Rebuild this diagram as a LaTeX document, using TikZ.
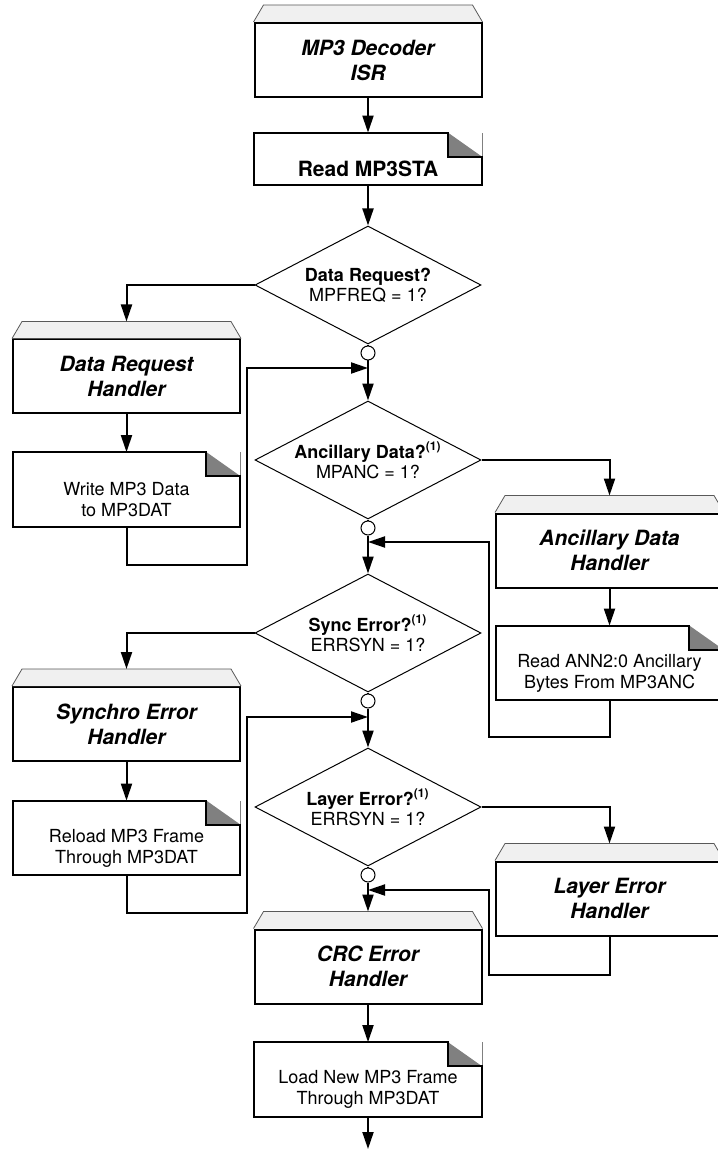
\documentclass[tikz,border=0pt]{standalone}
\usepackage{fontspec}
\setmainfont{TeX Gyre Heros}
\usetikzlibrary{shapes.geometric,arrows.meta,calc}

\definecolor{tabfill}{gray}{0.94}
\definecolor{tabline}{gray}{0.35}
\definecolor{foldgray}{gray}{0.5}

\begin{document}
\begin{tikzpicture}[x=0.5pt, y=-0.5pt,
	flow/.style={line width=1pt, -{Triangle[length=8.5pt, width=5.5pt]}},
	line/.style={line width=1pt},
	handler/.style={rectangle, draw, line width=1pt, minimum width=113.5pt, minimum height=37pt, inner sep=0pt, align=center, font=\fontsize{10.5}{12.5}\selectfont\bfseries\itshape},
	proc/.style={rectangle, minimum width=113.5pt, minimum height=37pt, inner sep=0pt},
	proctext/.style={align=center, yshift=-5pt, font=\fontsize{9}{10.5}\selectfont},
	decision/.style={diamond, draw, line width=0.5pt, aspect=2, minimum width=113pt, minimum height=59pt, inner sep=0pt, align=center, font=\fontsize{9}{10}\selectfont},
	junction/.style={circle, draw, line width=0.5pt, minimum size=7pt, inner sep=0pt, fill=white}]

	\useasboundingbox (0,0) rectangle (717,1149);

	\node (isr) [handler] at (368, 60) {MP3 Decoder\\ISR};
	\node (rd) [proc, minimum height=26pt, label={[proctext, font=\fontsize{10.5}{12.5}\selectfont\bfseries]center:Read MP3STA}] at (368, 159) {};
	\node (dreq) [decision] at (368, 285) {\textbf{Data Request?}\\MPFREQ = 1?};
	\node (c1) [junction] at (368, 353) {};
	\node (drh) [handler] at (126.5, 376.5) {Data Request\\Handler};
	\node (wdat) [proc, label={[proctext]center:Write MP3 Data\\to MP3DAT}] at (126.5, 489.5) {};
	\node (danc) [decision] at (368, 460) {\textbf{Ancillary Data?\textsuperscript{(1)}}\\MPANC = 1?};
	\node (c2) [junction] at (368, 528) {};
	\node (adh) [handler] at (609.5, 550.5) {Ancillary Data\\Handler};
	\node (ranc) [proc, label={[proctext]center:Read ANN2:0 Ancillary\\Bytes From MP3ANC}] at (609.5, 663) {};
	\node (dsyn) [decision] at (368, 633) {\textbf{Sync Error?\textsuperscript{(1)}}\\ERRSYN = 1?};
	\node (c3) [junction] at (368, 701) {};
	\node (seh) [handler] at (126.5, 724) {Synchro Error\\Handler};
	\node (rmp) [proc, label={[proctext]center:Reload MP3 Frame\\Through MP3DAT}] at (126.5, 838) {};
	\node (dlay) [decision] at (368, 807) {\textbf{Layer Error?\textsuperscript{(1)}}\\ERRSYN = 1?};
	\node (c4) [junction] at (368, 875) {};
	\node (leh) [handler] at (609.5, 898.5) {Layer Error\\Handler};
	\node (crc) [handler] at (368, 966.5) {CRC Error\\Handler};
	\node (lnm) [proc, label={[proctext]center:Load New MP3 Frame\\Through MP3DAT}] at (368, 1079.5) {};

	\coordinate (j1) at (368, 368);
	\coordinate (j2) at (368, 542);
	\coordinate (j3) at (368, 717);
	\coordinate (j4) at (368, 890);
	\coordinate (out) at (368, 1149);

	\foreach \n in {isr, drh, adh, seh, leh, crc}
		\filldraw[fill=tabfill, draw=tabline, line width=0.4pt]
		(\n.north west) -- ++(10,-17) -- ($(\n.north east)+(-10,-17)$) -- (\n.north east);

	\foreach \n in {rd, wdat, ranc, rmp, lnm} {
		\fill[foldgray] ($(\n.north east)+(-34,0)$) -- ($(\n.north east)+(-34,24)$) -- ($(\n.north east)+(0,24)$) -- cycle;
		\draw[foldgray, line width=0.3pt] ($(\n.north east)+(0,24)$) -- (\n.north east);
		\draw[line] (\n.south west) -- (\n.north west) -- ($(\n.north east)+(-34,0)$) -- ++(0,24) -- ($(\n.north east)+(0,24)$) -- (\n.south east) -- cycle;
	}

	\draw[flow] (isr) -- (rd);
	\draw[flow] (rd) -- (dreq);
	\draw[line] (dreq) -- (c1);
	\draw[flow] (c1) -- (danc);
	\draw[flow] (dreq.west) -| ([yshift=8.5pt]drh.north);
	\draw[flow] (drh) -- (wdat);
	\draw[flow] (wdat.south) -- ++(0,38) -- ++(120.5,0) |- (j1);

	\draw[flow] (danc.east) -| ([yshift=8.5pt]adh.north);
	\draw[flow] (adh) -- (ranc);
	\draw[flow] (ranc.south) -- ++(0,37) -- ++(-120.5,0) |- (j2);
	\draw[line] (danc) -- (c2);
	\draw[flow] (c2) -- (dsyn);

	\draw[flow] (dsyn.west) -| ([yshift=8.5pt]seh.north);
	\draw[flow] (seh) -- (rmp);
	\draw[flow] (rmp.south) -- ++(0,38) -- ++(120.5,0) |- (j3);
	\draw[line] (dsyn) -- (c3);
	\draw[flow] (c3) -- (dlay);

	\draw[flow] (dlay.east) -| ([yshift=8.5pt]leh.north);
	\draw[flow] (leh.south) -- ++(0,38) -- ++(-120.5,0) |- (j4);
	\draw[line] (dlay) -- (c4);
	\draw[flow] (c4) -- ([yshift=8.5pt]crc.north);
	\draw[flow] (crc) -- (lnm);
	\draw[flow] (lnm) -- (out);

\end{tikzpicture}
\end{document}
